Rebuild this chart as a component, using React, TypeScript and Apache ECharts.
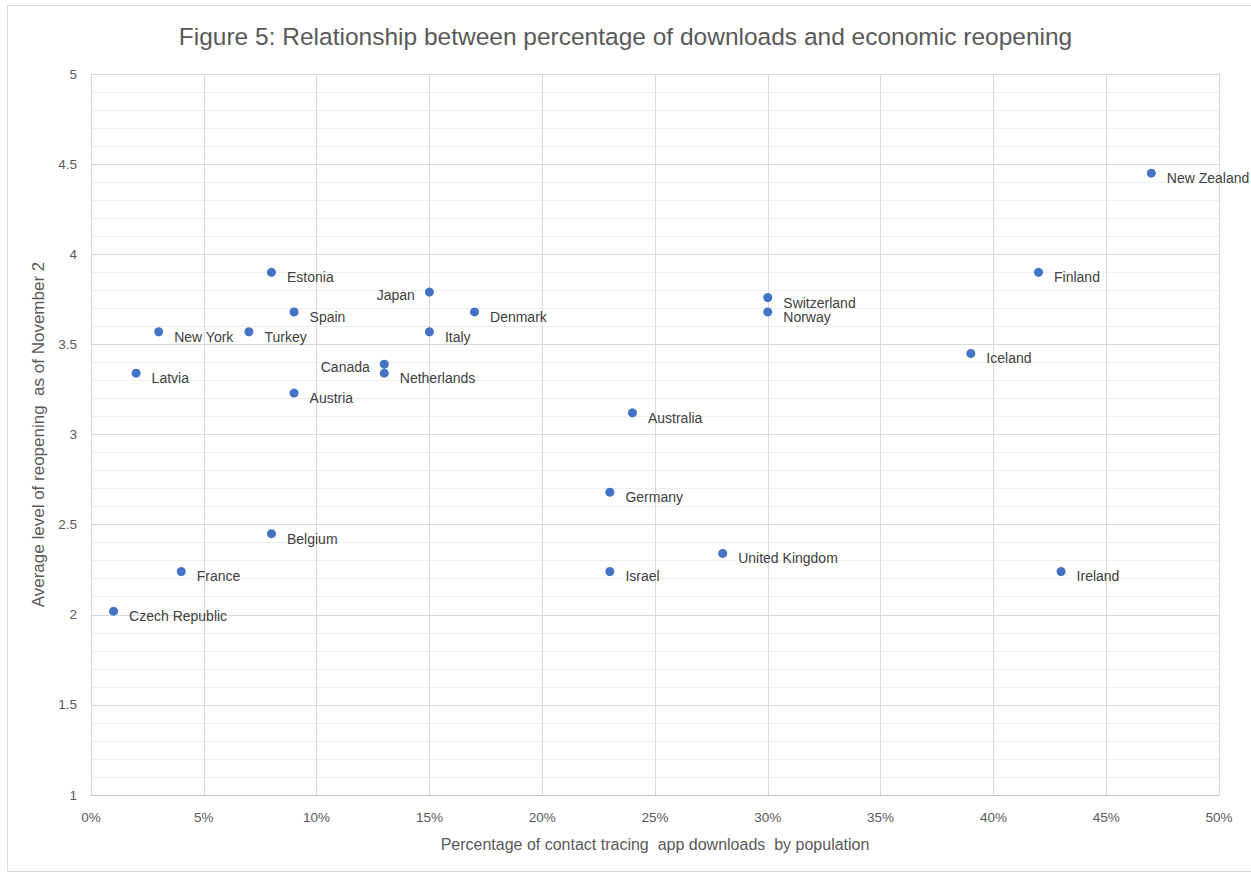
import React, { useEffect, useRef } from "react";
import * as echarts from "echarts";

const countries = [
  "New Zealand", "Finland", "Estonia", "Japan", "Spain", "Denmark", "Switzerland", "Norway",
  "New York", "Turkey", "Italy", "Iceland", "Canada", "Netherlands", "Latvia", "Austria",
  "Australia", "Germany", "Belgium", "United Kingdom", "France", "Israel", "Ireland", "Czech Republic",
];
const downloads = [
  0.47, 0.42, 0.08, 0.15, 0.09, 0.17, 0.30, 0.30,
  0.03, 0.07, 0.15, 0.39, 0.13, 0.13, 0.02, 0.09,
  0.24, 0.23, 0.08, 0.28, 0.04, 0.23, 0.43, 0.01,
];
const reopening = [
  4.45, 3.9, 3.9, 3.79, 3.68, 3.68, 3.76, 3.68,
  3.57, 3.57, 3.57, 3.45, 3.39, 3.34, 3.34, 3.23,
  3.12, 2.68, 2.45, 2.34, 2.24, 2.24, 2.24, 2.02,
];
const leftLabels = ["Japan", "Canada"];

const TEXT = "#595959";
const FONT = "'Liberation Sans', Arial, sans-serif";

export default function App() {
  const ref = useRef<HTMLDivElement>(null);
  useEffect(() => {
    if (!ref.current) return;
    const chart = echarts.init(ref.current, null, { renderer: "svg" });
    const data = countries.map((c, i) => {
      const left = leftLabels.includes(c);
      return {
        name: c,
        value: [downloads[i], reopening[i]],
        label: left
          ? { position: "left", distance: 10, offset: [0, 3] }
          : { position: "right", distance: 11, offset: [0, 5] },
      };
    });
    chart.setOption({
      animation: false,
      backgroundColor: "#ffffff",
      textStyle: { fontFamily: FONT },
      title: {
        text: "Figure 5: Relationship between percentage of downloads and economic reopening",
        left: "center",
        top: 19,
        textStyle: { fontSize: 24.5, fontWeight: "normal", color: TEXT, fontFamily: FONT },
      },
      graphic: [
        {
          type: "rect",
          shape: { x: 7.5, y: 5.5, width: 1260, height: 866 },
          style: { fill: "none", stroke: "#d9d9d9", lineWidth: 1 },
          silent: true,
        },
      ],
      grid: { left: 91, right: 32, top: 74, bottom: 79 },
      xAxis: {
        type: "value",
        min: 0,
        max: 0.5,
        interval: 0.05,
        name: "Percentage of contact tracing  app downloads  by population",
        nameLocation: "middle",
        nameGap: 41,
        nameTextStyle: { fontSize: 16, color: TEXT },
        axisLine: { show: true, lineStyle: { color: "#bfbfbf" } },
        axisTick: { show: false },
        axisLabel: {
          color: TEXT,
          fontSize: 13.5,
          margin: 15,
          formatter: (v: number) => `${Math.round(v * 100)}%`,
        },
        splitLine: { show: true, lineStyle: { color: "#d9d9d9" } },
      },
      yAxis: {
        type: "value",
        min: 1,
        max: 5,
        interval: 0.5,
        name: "Average level of reopening  as of November 2",
        nameLocation: "middle",
        nameGap: 43,
        nameTextStyle: { fontSize: 17, color: TEXT },
        axisLine: { show: false },
        axisTick: { show: false },
        axisLabel: { color: TEXT, fontSize: 13.5, margin: 14 },
        splitLine: { show: true, lineStyle: { color: "#d9d9d9" } },
        minorTick: { show: false, splitNumber: 5 },
        minorSplitLine: { show: true, lineStyle: { color: "#eeeeee" } },
      },
      series: [
        {
          type: "scatter",
          symbol: "circle",
          symbolSize: 9,
          itemStyle: { color: "#4472c4", opacity: 1 },
          label: {
            show: true,
            formatter: "{b}",
            color: "#404040",
            fontSize: 14,
            fontFamily: FONT,
          },
          data,
        },
      ],
    });
    return () => chart.dispose();
  }, []);
  return <div ref={ref} style={{ width: 1251, height: 874, position: "absolute", left: 0, top: 0 }} />;
}
